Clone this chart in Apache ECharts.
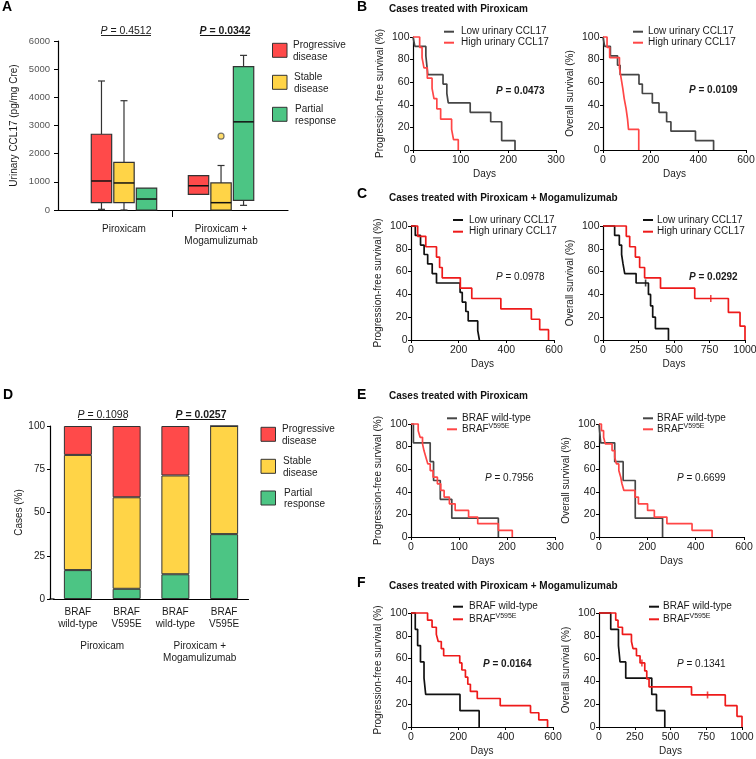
<!DOCTYPE html>
<html><head><meta charset="utf-8">
<script src="https://cdn.jsdelivr.net/npm/echarts@6/dist/echarts.min.js"></script>
<style>html,body{margin:0;padding:0;background:#fff}#c{width:756px;height:759px}</style>
</head><body><div id="c"></div>
<script>
const FF = '"Liberation Sans", Arial, Helvetica, sans-serif';
const TXT = '#1a1a1a';
const C_RED = '#ff4a4a', C_YEL = '#ffd447', C_GRN = '#4cc584';

// ---------- Panel A (box plots: [category, min, Q1, median, Q3, max]) ----------
const boxCategories = ['Piroxicam', 'Piroxicam +\nMogamulizumab'];
const boxProgressive = [[0, 24, 260, 1030, 2690, 4580], [1, 555, 555, 860, 1220, 1220]];
const boxStable      = [[0, 0, 260, 960, 1690, 3880], [1, 0, 0, 260, 960, 1580]];
const boxPartial     = [[0, 0, 0, 390, 780, 780], [1, 165, 343, 3130, 5090, 5490]];
const boxStableOutliers = [[1, 2620]];

// ---------- Panel D (stacked %) ----------
const dCategories = ['BRAF\nwild-type', 'BRAF\nV595E', 'BRAF\nwild-type', 'BRAF\nV595E'];
const dGroups = ['Piroxicam', 'Piroxicam +\nMogamulizumab'];
const dPartial     = [16.7, 5.9, 14.3, 37.5];
const dStable      = [66.6, 52.9, 57.1, 62.5];
const dProgressive = [16.7, 41.2, 28.6, 0];

// ---------- Kaplan-Meier curves: [day, survival %] ----------
const bPfsLow  = [[0,100],[4,91.7],[27,83.3],[31,66.7],[63,58.3],[71,50],[74,41.7],[120,33.3],[163,25],[186,8.3],[214,0]];
const bPfsHigh = [[0,100],[14,90.9],[19,81.8],[23,72.7],[30,63.6],[40,54.5],[44,45.5],[50,36.4],[58,27.3],[81,18.2],[85,9.1],[95,0]];
const bOsLow   = [[0,100],[7,91.7],[31,83.3],[61,75],[72,66.7],[151,58.3],[165,50],[207,41.7],[235,33.3],[267,25],[285,16.7],[388,8.3],[464,0]];
const bOsHigh  = [[0,100],[17,90.9],[28,81.8],[69,72.7],[76,63.6],[83,54.5],[89,45.5],[97,36.4],[103,27.3],[107,18.2],[150,0]];

const cPfsLow  = [[0,100],[18,91.7],[40,83.3],[55,75],[70,66.7],[89,58.3],[107,50],[206,41.7],[215,33.3],[230,25],[240,16.7],[280,8.3],[287,0]];
const cPfsHigh = [[0,100],[28,90.9],[62,81.8],[107,72.7],[120,63.6],[131,54.5],[207,45.5],[255,36.4],[377,27.3],[505,18.2],[540,9.1],[577,0]];
const cOsLow   = [[0,100],[82,91.7],[115,83.3],[131,75],[141,66.7],[153,58.3],[233,50],[320,40],[335,30],[350,20],[369,10],[461,0]];
const cOsLowCensored = [[300,50]];
const cOsHigh  = [[0,100],[164,90.9],[188,81.8],[228,72.7],[258,63.6],[293,54.5],[405,45.5],[646,36.4],[883,24.2],[965,12.1],[1000,0]];
const cOsHighCensored = [[759,36.4]];

const ePfsWt    = [[0,100],[5,83.3],[40,66.7],[47,50],[61,33.3],[85,16.7],[182,0]];
const ePfsV595E = [[0,100],[15,94.1],[19,88.2],[24,82.4],[27,76.5],[31,70.6],[35,64.7],[40,58.8],[46,52.9],[55,47.1],[62,41.2],[69,35.3],[80,29.4],[92,23.5],[120,17.6],[139,11.8],[182,5.9],[211,0]];
const eOsWt     = [[0,100],[7,83.3],[65,66.7],[100,50],[150,16.7],[263,0]];
const eOsV595E  = [[0,100],[10,94.1],[19,88.2],[26,82.4],[54,76.5],[65,70.6],[72,64.7],[82,58.8],[90,52.9],[95,47.1],[103,41.2],[149,35.3],[163,29.4],[201,23.5],[229,17.6],[281,11.8],[385,5.9],[468,0]];

const fPfsWt    = [[0,100],[18,85.7],[28,71.4],[40,57.1],[55,42.9],[62,28.6],[207,14.3],[288,0]];
const fPfsV595E = [[0,100],[70,93.75],[89,87.5],[107,81.25],[115,75],[128,68.75],[138,62.5],[206,56.25],[215,50],[230,43.75],[240,37.5],[251,31.25],[280,25],[377,18.75],[505,12.5],[540,6.25],[577,0]];
const fOsWt     = [[0,100],[82,85.7],[136,71.4],[147,57.1],[187,42.9],[369,28.6],[402,14.3],[460,0]];
const fOsV595E  = [[0,100],[117,93.75],[133,87.5],[164,81.25],[227,75],[238,68.75],[262,62.5],[287,56.25],[320,49.2],[334,42.2],[350,35.2],[647,28.1],[883,18.75],[965,9.4],[1000,0]];
const fOsV595ECensored = [[300,56.25],[759,28.1]];

// ---------- layout ----------
const G_B = '#464646', R_B = '#ff4646', G_C = '#111111', R_C = '#ee1a1a';
const kmPanels = [
  {g:{left:413, top:37, width:143, height:113}, xMax:300, xInt:100, yName:'Progression-free survival (%)', curves:[[bPfsLow,G_B],[bPfsHigh,R_B]]},
  {g:{left:603, top:37, width:143, height:113}, xMax:600, xInt:200, yName:'Overall survival (%)', curves:[[bOsLow,G_B],[bOsHigh,R_B]]},
  {g:{left:411, top:226, width:143, height:114}, xMax:600, xInt:200, yName:'Progression-free survival (%)', curves:[[cPfsLow,G_C],[cPfsHigh,R_C]]},
  {g:{left:603, top:226, width:142, height:114}, xMax:1000, xInt:250, yName:'Overall survival (%)', curves:[[cOsLow,G_C,cOsLowCensored],[cOsHigh,R_C,cOsHighCensored]]},
  {g:{left:411, top:424, width:144, height:113}, xMax:300, xInt:100, yName:'Progression-free survival (%)', curves:[[ePfsWt,G_B],[ePfsV595E,R_B]]},
  {g:{left:599, top:424, width:145, height:113}, xMax:600, xInt:200, yName:'Overall survival (%)', curves:[[eOsWt,G_B],[eOsV595E,R_B]]},
  {g:{left:411, top:613, width:142, height:114}, xMax:600, xInt:200, yName:'Progression-free survival (%)', curves:[[fPfsWt,G_C],[fPfsV595E,R_C]]},
  {g:{left:599, top:613, width:143, height:114}, xMax:1000, xInt:250, yName:'Overall survival (%)', curves:[[fOsWt,G_C],[fOsV595E,R_C,fOsV595ECensored]]}
];

const plain = (v) => String(v);
const axLine = {show:true, onZero:false, lineStyle:{color:'#000', width:1.2}};
const grids = [
  {left:58, top:41, width:230, height:169, outerBoundsMode:'none', containLabel:false},
  {left:53.5, top:426, width:195, height:173, outerBoundsMode:'none', containLabel:false}
];
const xAxes = [
  {type:'value', gridIndex:0, min:-0.68, max:1.69, axisLine:axLine,
   axisTick:{show:true, customValues:[0.5], length:7, lineStyle:{color:'#000'}},
   axisLabel:{customValues:[0,1], formatter:(v)=>boxCategories[Math.round(v)], margin:13, fontSize:10, lineHeight:12, color:TXT},
   splitLine:{show:false}},
  {type:'category', gridIndex:1, data:dCategories, axisLine:axLine, axisTick:{show:false},
   axisLabel:{margin:7, fontSize:10, lineHeight:12, color:TXT, interval:0}, splitLine:{show:false}},
  {type:'category', gridIndex:1, data:dGroups, position:'bottom', offset:33, axisLine:{show:false}, axisTick:{show:false},
   axisLabel:{margin:8, fontSize:10, lineHeight:12, color:TXT, interval:0}, splitLine:{show:false}}
];
const yAxes = [
  {type:'value', gridIndex:0, min:0, max:6000, interval:1000, name:'Urinary CCL17 (pg/mg Cre)', nameLocation:'middle', nameGap:39,
   nameTextStyle:{fontSize:10, color:TXT}, axisLine:axLine, axisTick:{show:true, length:4, lineStyle:{color:'#000'}},
   axisLabel:{fontSize:9.5, color:'#555', margin:8, formatter:plain}, splitLine:{show:false}},
  {type:'value', gridIndex:1, min:0, max:100, interval:25, offset:3.5, name:'Cases (%)', nameLocation:'middle', nameGap:24,
   nameTextStyle:{fontSize:10, color:TXT}, axisLine:axLine, axisTick:{show:true, length:3, lineStyle:{color:'#000'}},
   axisLabel:{fontSize:10, color:TXT, margin:5, formatter:plain}, splitLine:{show:false}}
];

const series = [];
function boxRenderer(offset, color) {
  return function (params, api) {
    const c = api.value(0) + offset;
    const mn = api.value(1), q1 = api.value(2), md = api.value(3), q3 = api.value(4), mx = api.value(5);
    const halfW = api.size([0.21, 0])[0] / 2;
    const cx = api.coord([c, md])[0];
    const y = (v) => api.coord([c, v])[1];
    const ln = (x1, y1, x2, y2, w, col) => ({type:'line', shape:{x1, y1, x2, y2}, style:{stroke: col || '#333', lineWidth: w || 1.2}});
    const ch = [];
    const capH = 3.5;
    if (mx > q3) { ch.push(ln(cx, y(q3), cx, y(mx))); ch.push(ln(cx - capH, y(mx), cx + capH, y(mx))); }
    if (mn < q1) { ch.push(ln(cx, y(q1), cx, y(mn))); ch.push(ln(cx - capH, y(mn), cx + capH, y(mn))); }
    ch.push({type:'rect', shape:{x: cx - halfW, y: y(q3), width: 2 * halfW, height: y(q1) - y(q3)}, style:{fill: color, stroke:'#333', lineWidth:1.2}});
    ch.push(ln(cx - halfW, y(md), cx + halfW, y(md), 1.5, '#111'));
    return {type:'group', children: ch};
  };
}
[[boxProgressive, -0.232, C_RED], [boxStable, 0, C_YEL], [boxPartial, 0.232, C_GRN]].forEach(([d, off, col]) => {
  series.push({type:'custom', xAxisIndex:0, yAxisIndex:0, data:d, renderItem: boxRenderer(off, col),
    encode:{x:0, y:[1,2,3,4,5]}, clip:false, silent:true});
});
series.push({type:'scatter', xAxisIndex:0, yAxisIndex:0, data:boxStableOutliers, symbol:'circle', symbolSize:6,
  itemStyle:{color:C_YEL, borderColor:'#555', borderWidth:1.2}, silent:true, z:5});

[[dPartial, C_GRN], [dStable, C_YEL], [dProgressive, C_RED]].forEach(([d, col]) => {
  series.push({type:'bar', xAxisIndex:1, yAxisIndex:1, stack:'d', data:d, barWidth:28,
    itemStyle:{color:col, borderColor:'#333', borderWidth:1}, silent:true});
});

kmPanels.forEach((p, k) => {
  const gi = grids.length;
  grids.push(Object.assign({outerBoundsMode:'none', containLabel:false}, p.g));
  const xi = xAxes.length, yi = yAxes.length;
  xAxes.push({type:'value', gridIndex:gi, min:0, max:p.xMax, interval:p.xInt, name:'Days', nameLocation:'middle', nameGap:19,
    nameTextStyle:{fontSize:10, color:TXT}, axisLine:axLine, axisTick:{show:true, length:3, lineStyle:{color:'#000'}},
    axisLabel:{fontSize:10.5, color:TXT, margin:4.5, formatter:plain}, splitLine:{show:false}});
  yAxes.push({type:'value', gridIndex:gi, min:0, max:100, interval:20, name:p.yName, nameLocation:'middle', nameGap:28,
    nameTextStyle:{fontSize:10, color:TXT}, axisLine:axLine, axisTick:{show:true, length:3, lineStyle:{color:'#000'}},
    axisLabel:{fontSize:10.5, color:TXT, margin:3.5, formatter:plain}, splitLine:{show:false}});
  p.curves.forEach(([d, col, cens]) => {
    series.push({type:'line', xAxisIndex:xi, yAxisIndex:yi, data:d, step:'end', showSymbol:false, symbol:'none',
      lineStyle:{color:col, width:1.7}, itemStyle:{color:col}, clip:false, silent:true});
    if (cens) series.push({type:'scatter', xAxisIndex:xi, yAxisIndex:yi, data:cens, symbol:'rect', symbolSize:[1.6, 7],
      itemStyle:{color:col}, silent:true});
  });
});

// ---------- texts ----------
const graphic = [];
function txt(x, y, text, o) {
  graphic.push({type:'text', silent:true, style:Object.assign({x, y, text, fontSize:10, fontFamily:FF, fill:TXT,
    align:'left', textAlign:'left', verticalAlign:'middle', textVerticalAlign:'middle'}, o || {})});
}
function hline(x1, x2, y, col, w) {
  graphic.push({type:'line', silent:true, shape:{x1, y1:y, x2, y2:y}, style:{stroke:col, lineWidth:w}});
}
function pText(x, y, val, bold, align, fs) {
  const fw = bold ? 'bold' : 'normal';
  fs = fs || 10;
  graphic.push({type:'text', silent:true, style:{x, y, text:'{i|P}{n| = ' + val + '}', align, textAlign:align,
    verticalAlign:'middle', textVerticalAlign:'middle', fontSize:fs, fontFamily:FF, fill:TXT,
    rich:{i:{fontStyle:'italic', fontWeight:fw, fontSize:fs, fontFamily:FF, fill:TXT},
          n:{fontWeight:fw, fontSize:fs, fontFamily:FF, fill:TXT}}}});
}
// close the small corner gap of panel D's x axis (y axis is offset)
hline(49.4, 54.5, 599, '#000', 1.2);
// panel letters
[['A',2,7.5],['B',357,7.5],['C',357,194],['D',3,395],['E',357,395],['F',357,583]].forEach(([t,x,y]) =>
  txt(x, y, t, {fontSize:14, fontWeight:'bold', fill:'#000'}));
// titles
txt(389, 9, 'Cases treated with Piroxicam', {fontWeight:'bold', fill:'#111'});
txt(389, 198, 'Cases treated with Piroxicam + Mogamulizumab', {fontWeight:'bold', fill:'#111'});
txt(389, 396, 'Cases treated with Piroxicam', {fontWeight:'bold', fill:'#111'});
txt(389, 586, 'Cases treated with Piroxicam + Mogamulizumab', {fontWeight:'bold', fill:'#111'});
// P values A & D (underlined)
pText(126, 31, '0.4512', false, 'center', 10.5); hline(101, 151, 35.5, '#222', 1);
pText(225, 31, '0.0342', true, 'center', 10.5);  hline(200, 250, 35.5, '#111', 1.2);
pText(103, 415, '0.1098', false, 'center', 10.5); hline(78, 127, 419.5, '#222', 1);
pText(201, 415, '0.0257', true, 'center', 10.5);  hline(177, 225, 419.5, '#111', 1.2);
// KM P values
pText(496, 91, '0.0473', true, 'left');
pText(689, 90, '0.0109', true, 'left');
pText(496, 277, '0.0978', false, 'left');
pText(689, 277, '0.0292', true, 'left');
pText(485, 478, '0.7956', false, 'left');
pText(677, 478, '0.6699', false, 'left');
pText(483, 664, '0.0164', true, 'left');
pText(677, 664, '0.1341', false, 'left');

// box / bar legends
function boxLegend(sqX, sqYs, textXs, lines) {
  [C_RED, C_YEL, C_GRN].forEach((col, i) => {
    graphic.push({type:'rect', silent:true, shape:{x:sqX, y:sqYs[i], width:14.5, height:14}, style:{fill:col, stroke:'#333', lineWidth:1}});
    txt(textXs[i], sqYs[i] + 2, lines[i][0], {fill:'#222'});
    txt(textXs[i], sqYs[i] + 13.5, lines[i][1], {fill:'#222'});
  });
}
const legendLines = [['Progressive','disease'],['Stable','disease'],['Partial','response']];
boxLegend(272.5, [43.3, 75.3, 107.3], [293, 294, 295], legendLines);
boxLegend(261, [427.3, 459.3, 491], [282, 283, 284], legendLines);

// KM legends
function kmLegend(lx1, lx2, tx, y1, y2, c1, c2, l1, l2, braf) {
  hline(lx1, lx2, y1, c1, 2); hline(lx1, lx2, y2, c2, 2);
  txt(tx, y1, l1);
  if (braf) { txt(tx, y2, 'BRAF'); txt(tx + 26.5, y2 - 3.2, 'V595E', {fontSize:7}); }
  else txt(tx, y2, l2);
}
kmLegend(444, 454, 461, 31.7, 42.7, G_B, R_B, 'Low urinary CCL17', 'High urinary CCL17');
kmLegend(633, 643, 648, 31.7, 42.7, G_B, R_B, 'Low urinary CCL17', 'High urinary CCL17');
kmLegend(453, 463, 469, 220, 231.7, G_C, R_C, 'Low urinary CCL17', 'High urinary CCL17');
kmLegend(643, 653, 657, 220, 231.7, G_C, R_C, 'Low urinary CCL17', 'High urinary CCL17');
kmLegend(447, 457, 462, 418.3, 429.3, G_B, R_B, 'BRAF wild-type', '', true);
kmLegend(643, 653, 657, 418.3, 429.3, G_B, R_B, 'BRAF wild-type', '', true);
kmLegend(453, 463, 469, 606.7, 619.3, G_C, R_C, 'BRAF wild-type', '', true);
kmLegend(649, 659, 663, 606.7, 619.3, G_C, R_C, 'BRAF wild-type', '', true);

const chart = echarts.init(document.getElementById('c'), null, {renderer:'canvas'});
chart.setOption({
  animation:false,
  backgroundColor:'#fff',
  textStyle:{fontFamily:FF},
  grid:grids, xAxis:xAxes, yAxis:yAxes, series, graphic
});
</script></body></html>
